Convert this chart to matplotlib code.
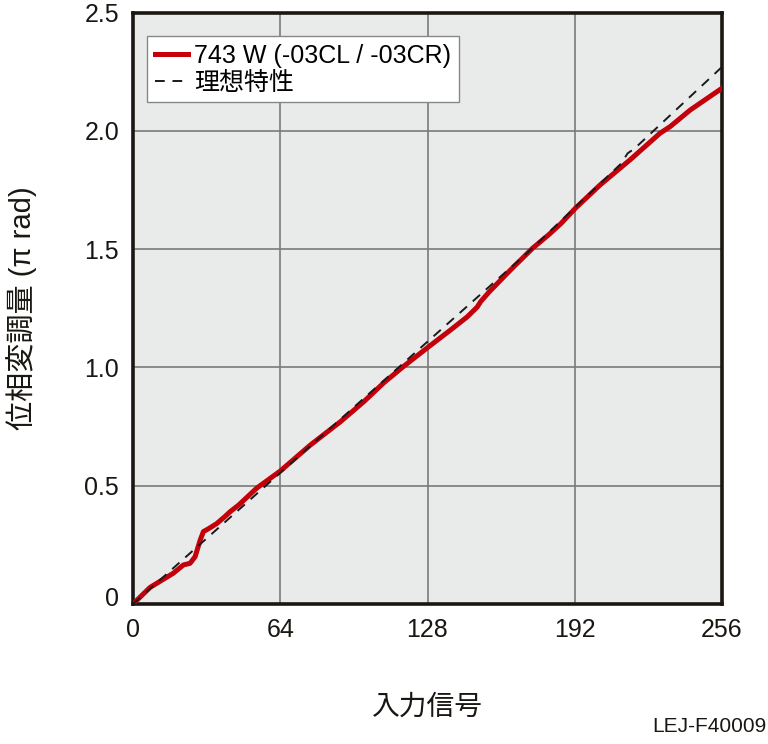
import matplotlib
matplotlib.use("Agg")
import matplotlib.pyplot as plt
import matplotlib.transforms as mtransforms

plt.rcParams['font.family'] = ['Liberation Sans', 'Noto Sans CJK JP', 'DejaVu Sans']

# Measured characteristic (input signal vs phase, pi rad)
meas_x = [0, 7.4, 17.5, 21.9, 24.8, 27.0, 29.2, 30.6, 32.8, 36.4, 40.0, 42.2, 45.9,
          53.8, 64.0, 77.1, 90.1, 100.3, 109.0, 117.7, 128.6, 138.0, 145.3, 149.6,
          151.1, 154.7, 164.1, 173.6, 180.6, 185.9, 192.2, 203.0, 216.0, 229.1,
          233.5, 242.2, 256.0]
meas_y = [0, 0.07, 0.13, 0.165, 0.172, 0.2, 0.27, 0.306, 0.318, 0.34, 0.37, 0.39, 0.418,
          0.49, 0.562, 0.672, 0.77, 0.855, 0.935, 1.005, 1.088, 1.158, 1.214, 1.255,
          1.278, 1.318, 1.412, 1.503, 1.56, 1.607, 1.672, 1.771, 1.877, 1.99,
          2.018, 2.088, 2.18]

# Ideal characteristic
ideal_x = [0, 172, 212, 215, 218, 256]
ideal_y = [0, 1.49, 1.86, 1.905, 1.925, 2.27]

xticks = [0, 64, 128, 192, 256]
yticks = [0, 0.5, 1.0, 1.5, 2.0, 2.5]
ytick_labels = ['0', '0.5', '1.0', '1.5', '2.0', '2.5']

fig = plt.figure(figsize=(7.68, 7.44), dpi=100)
ax = fig.add_axes([133/768, 1-604/744, (722-133)/768, (604-12.5)/744])
ax.set_facecolor('#e9ebeb')

ax.plot(meas_x, meas_y, color='#c4000a', lw=3.6, solid_joinstyle='round',
        label='743 W (-03CL / -03CR)', zorder=3)
ax.plot(ideal_x, ideal_y, color='#1a1a1a', lw=1.4, ls=(0, (5, 4)),
        label='理想特性', zorder=4)

ax.set_xlim(0, 256)
ax.set_ylim(0, 2.5)
ax.set_xticks(xticks)
ax.set_yticks(yticks)
ax.set_xticklabels([str(t) for t in xticks])
ax.set_yticklabels(ytick_labels)
ax.grid(True, color='#7a7a7a', lw=1.2)
ax.set_axisbelow(True)
ax.tick_params(length=0, labelsize=18, pad=10, colors='#1a1611')
for s in ax.spines.values():
    s.set_linewidth(2.6)
    s.set_color('#1a1611')

# shift the y "0" label up slightly
lbl0 = ax.get_yticklabels()[0]
lbl0.set_transform(lbl0.get_transform() + mtransforms.ScaledTranslation(0, 8/100, fig.dpi_scale_trans))

ax.set_xlabel('入力信号', fontsize=20, labelpad=38, color='#1a1611')
ax.set_ylabel('位相変調量 (π rad)', fontsize=21, labelpad=34, color='#1a1611')

leg = ax.legend(loc='upper left', bbox_to_anchor=(0.0245, 0.96), fontsize=18,
                frameon=True, fancybox=False, framealpha=1, edgecolor='#888888',
                handlelength=1.32, handletextpad=0.26, borderpad=0.3, labelspacing=0.12,
                borderaxespad=0)
leg.get_frame().set_linewidth(1.0)

fig.text(766/768, 1-727/744, 'LEJ-F40009', ha='right', va='center', fontsize=15, color='#1a1611')

fig.savefig('out.png', dpi=100)
